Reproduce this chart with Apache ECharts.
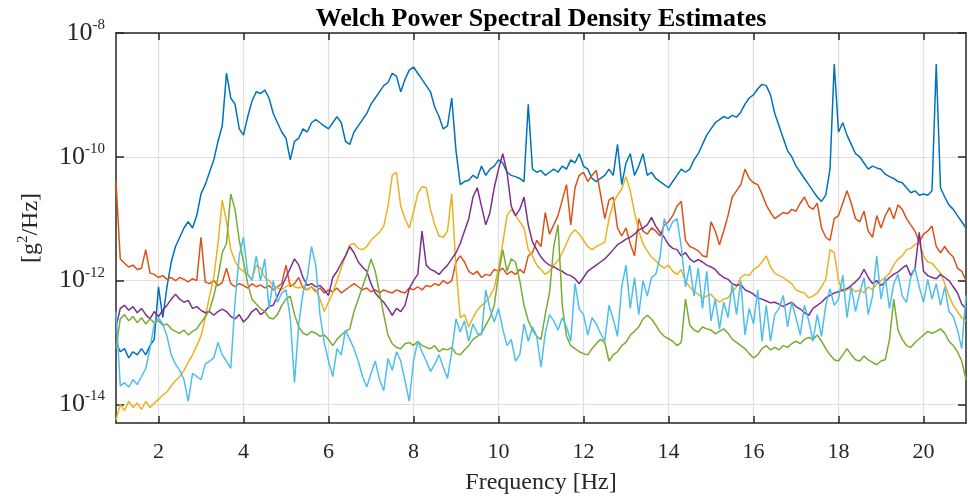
<!DOCTYPE html>
<html>
<head>
<meta charset="utf-8">
<script src="https://cdn.jsdelivr.net/npm/echarts@6/dist/echarts.min.js"></script>
<style>
  html, body { margin: 0; padding: 0; background: #fff; }
  #chart { width: 968px; height: 500px; }
</style>
</head>
<body>
<div id="chart"></div>
<script>
// Welch PSD estimates, six channels, sampled every 0.1 Hz from 1 to 21 Hz.
// Values are stored as log10 of the PSD in g^2/Hz.
const freqStart = 1;
const freqStep = 0.1;
const freqCount = 201;

const xTickValues = [2, 4, 6, 8, 10, 12, 14, 16, 18, 20];
const yTickValues = [1e-14, 1e-12, 1e-10, 1e-8];

const seriesNames = ['Ch 1', 'Ch 2', 'Ch 3', 'Ch 4', 'Ch 5', 'Ch 6'];

const ch1Log = [
  -13.0,-13.15,-13.1,-13.25,-13.15,-13.2,-13.1,-13.2,-13.05,-12.95,
  -12.1,-12.6,-12.1,-11.7,-11.45,-11.3,-11.15,-11.05,-11.15,-10.95,
  -10.6,-10.45,-10.25,-10.05,-9.75,-9.5,-8.65,-9.05,-9.15,-9.55,
  -9.65,-9.35,-9.1,-8.95,-8.98,-8.92,-9.05,-9.3,-9.45,-9.6,
  -9.7,-10.05,-9.75,-9.7,-9.55,-9.6,-9.45,-9.4,-9.45,-9.5,
  -9.55,-9.45,-9.35,-9.45,-9.75,-9.8,-9.6,-9.5,-9.4,-9.3,
  -9.15,-9.05,-8.95,-8.85,-8.8,-8.65,-8.7,-8.95,-8.75,-8.6,
  -8.55,-8.65,-8.75,-8.85,-8.95,-9.2,-9.35,-9.55,-9.5,-9.05,
  -9.9,-10.45,-10.4,-10.38,-10.3,-10.35,-10.15,-10.3,-10.2,-10.15,
  -10.05,-10.1,-10.25,-10.3,-10.32,-10.35,-10.4,-9.15,-10.2,-10.25,
  -10.22,-10.3,-10.25,-10.2,-10.25,-10.15,-10.2,-10.05,-10.1,-9.95,
  -10.15,-10.2,-10.35,-10.4,-10.35,-10.3,-10.2,-10.3,-9.8,-10.45,
  -10.1,-9.95,-10.3,-10.15,-9.95,-10.3,-10.25,-10.35,-10.4,-10.45,
  -10.5,-10.4,-10.3,-10.2,-10.25,-10.2,-10.05,-9.95,-9.8,-9.65,
  -9.55,-9.45,-9.4,-9.35,-9.38,-9.33,-9.36,-9.28,-9.15,-9.05,
  -9.0,-8.9,-8.83,-8.85,-9.0,-9.3,-9.5,-9.7,-9.9,-10.0,
  -10.15,-10.25,-10.35,-10.45,-10.55,-10.65,-10.72,-10.62,-10.2,-8.5,
  -9.6,-9.45,-9.65,-9.8,-9.95,-10.0,-10.1,-10.2,-10.15,-10.18,
  -10.2,-10.28,-10.32,-10.35,-10.4,-10.42,-10.5,-10.58,-10.55,-10.62,
  -10.6,-10.62,-10.55,-8.5,-10.5,-10.65,-10.78,-10.85,-10.95,-11.05,
  -11.15
];

const ch2Log = [
  -10.4,-11.65,-11.72,-11.78,-11.75,-11.82,-11.8,-11.5,-11.88,-11.9,
  -11.95,-11.92,-11.98,-11.95,-12.0,-11.95,-11.98,-12.02,-11.97,-12.0,
  -11.3,-12.02,-12.05,-12.0,-12.08,-12.03,-11.8,-12.05,-12.1,-12.05,
  -12.08,-12.12,-12.05,-12.1,-12.07,-12.12,-12.08,-12.15,-12.1,-12.05,
  -11.75,-12.1,-12.05,-11.95,-12.12,-12.15,-12.1,-12.18,-12.12,-12.2,
  -12.15,-12.18,-12.12,-12.2,-12.15,-12.1,-12.05,-12.1,-12.15,-12.12,
  -12.18,-12.15,-12.2,-12.15,-12.18,-12.2,-12.15,-12.18,-12.2,-12.12,
  -12.15,-12.1,-12.15,-12.08,-12.1,-12.05,-12.08,-12.0,-12.05,-12.0,
  -11.7,-11.6,-11.7,-11.85,-11.9,-11.85,-11.95,-11.9,-11.92,-11.82,
  -11.85,-11.8,-11.9,-11.85,-11.9,-11.82,-11.88,-11.6,-11.55,-11.35,
  -11.45,-10.9,-11.25,-11.1,-10.95,-10.7,-10.45,-11.1,-10.5,-10.3,
  -10.25,-10.4,-10.3,-10.22,-10.6,-11.0,-10.7,-10.65,-11.15,-11.28,
  -11.15,-11.4,-11.6,-11.0,-11.2,-11.25,-11.15,-11.2,-11.28,-11.1,
  -11.05,-10.95,-10.8,-10.72,-11.35,-11.45,-11.48,-11.52,-11.6,-11.62,
  -11.05,-11.2,-11.42,-11.2,-10.95,-10.65,-10.55,-10.45,-10.2,-10.35,
  -10.42,-10.45,-10.6,-10.78,-10.9,-11.0,-10.95,-10.9,-10.92,-10.85,
  -10.88,-10.75,-10.65,-10.8,-10.85,-10.75,-11.15,-11.3,-11.35,-11.0,
  -10.95,-10.75,-10.55,-10.75,-11.0,-11.05,-10.88,-11.2,-11.3,-10.95,
  -11.15,-10.95,-10.82,-11.0,-10.78,-10.85,-11.0,-11.1,-11.2,-11.38,
  -11.25,-11.2,-11.12,-11.45,-11.55,-11.45,-11.55,-11.62,-11.8,-11.85,
  -12.0
];

const ch3Log = [
  -14.25,-14.0,-14.1,-13.95,-14.05,-13.98,-14.08,-13.95,-14.05,-13.98,
  -13.92,-13.85,-13.8,-13.7,-13.62,-13.55,-13.45,-13.32,-13.2,-13.05,
  -12.9,-12.6,-12.25,-11.95,-11.4,-10.7,-11.05,-11.5,-11.68,-11.8,
  -11.85,-11.9,-11.98,-11.75,-11.8,-11.95,-12.0,-12.08,-12.12,-12.15,
  -12.1,-12.05,-12.1,-12.12,-12.08,-12.15,-12.1,-12.15,-12.3,-12.5,
  -12.35,-12.2,-12.0,-11.8,-11.6,-11.42,-11.4,-11.48,-11.5,-11.45,
  -11.35,-11.28,-11.22,-11.12,-10.8,-10.3,-10.25,-10.8,-11.0,-11.15,
  -10.9,-10.6,-10.48,-10.5,-10.85,-11.1,-11.28,-11.3,-11.2,-10.6,
  -11.8,-12.6,-12.55,-12.75,-12.6,-12.48,-12.4,-12.35,-12.25,-12.12,
  -11.8,-11.4,-10.95,-10.85,-10.95,-11.05,-11.15,-11.5,-11.6,-11.75,
  -11.82,-11.9,-11.85,-11.75,-11.68,-11.55,-11.4,-11.25,-11.18,-11.25,
  -11.35,-11.45,-11.5,-11.45,-11.42,-11.38,-11.0,-10.75,-10.62,-10.52,
  -10.32,-10.55,-10.9,-11.2,-11.4,-11.52,-11.62,-11.68,-11.75,-11.8,
  -11.75,-11.85,-11.9,-11.82,-12.02,-12.1,-12.18,-12.22,-12.28,-12.25,
  -12.22,-12.3,-12.35,-12.3,-12.28,-12.18,-12.1,-11.95,-11.9,-11.92,
  -11.82,-11.78,-11.7,-11.6,-11.78,-11.88,-11.92,-11.95,-12.0,-12.05,
  -12.15,-12.18,-12.2,-12.28,-12.25,-12.2,-12.1,-11.98,-11.5,-11.55,
  -12.0,-12.18,-12.15,-12.12,-12.18,-12.15,-12.2,-12.1,-12.15,-12.05,
  -12.0,-11.95,-11.88,-11.75,-11.65,-11.6,-11.5,-11.48,-11.42,-11.38,
  -11.6,-11.7,-11.72,-11.8,-11.88,-12.05,-12.25,-12.4,-12.5,-12.6,
  -12.65
];

const ch4Log = [
  -12.75,-12.45,-12.4,-12.48,-12.42,-12.52,-12.45,-12.55,-12.62,-12.5,
  -12.58,-12.48,-12.4,-12.3,-12.22,-12.3,-12.35,-12.32,-12.45,-12.42,
  -12.48,-12.52,-12.5,-12.56,-12.5,-12.46,-12.5,-12.58,-12.62,-12.55,
  -12.67,-12.6,-12.5,-12.45,-12.55,-12.5,-12.42,-12.4,-12.25,-12.1,
  -11.95,-11.8,-11.65,-11.75,-11.95,-12.08,-12.05,-12.1,-12.08,-12.15,
  -12.24,-11.95,-11.85,-11.72,-11.6,-11.45,-11.55,-11.7,-11.78,-11.85,
  -12.05,-12.2,-12.28,-12.35,-12.45,-12.56,-12.45,-12.5,-12.4,-12.13,
  -12.0,-11.9,-11.2,-11.75,-11.82,-11.85,-11.9,-11.82,-11.75,-11.65,
  -11.55,-11.4,-11.2,-11.0,-10.65,-10.5,-10.8,-11.1,-10.9,-10.5,
  -10.2,-9.95,-10.25,-10.8,-10.95,-10.85,-10.65,-11.1,-11.38,-11.5,
  -11.62,-11.7,-11.75,-11.78,-11.82,-11.85,-11.9,-11.92,-11.97,-12.05,
  -11.95,-11.85,-11.8,-11.75,-11.7,-11.65,-11.58,-11.5,-11.42,-11.38,
  -11.33,-11.3,-11.25,-11.18,-11.15,-11.1,-10.98,-11.12,-11.22,-11.3,
  -11.42,-11.48,-11.5,-11.6,-11.55,-11.65,-11.7,-11.66,-11.7,-11.75,
  -11.78,-11.82,-11.9,-11.95,-11.98,-12.05,-12.08,-12.06,-12.15,-12.18,
  -12.22,-12.28,-12.3,-12.33,-12.36,-12.35,-12.38,-12.42,-12.38,-12.35,
  -12.42,-12.46,-12.52,-12.56,-12.45,-12.4,-12.35,-12.28,-12.24,-12.2,
  -12.18,-12.15,-12.13,-12.08,-12.02,-11.95,-11.82,-11.95,-12.05,-12.0,
  -12.08,-12.02,-11.95,-11.9,-11.86,-11.8,-11.75,-11.92,-11.8,-11.22,
  -11.85,-11.92,-11.95,-11.97,-11.9,-11.95,-12.0,-12.1,-12.2,-12.38,
  -12.46
];

const ch5Log = [
  -13.1,-12.62,-12.55,-12.65,-12.58,-12.68,-12.6,-12.7,-12.62,-12.68,
  -12.65,-12.72,-12.7,-12.78,-12.82,-12.85,-12.8,-12.88,-12.82,-12.78,
  -12.68,-12.58,-12.48,-12.25,-11.95,-11.55,-11.4,-10.6,-10.85,-11.35,
  -11.7,-12.05,-12.3,-12.38,-12.45,-12.5,-12.6,-12.62,-12.55,-12.4,
  -12.3,-12.25,-12.55,-12.75,-12.85,-12.88,-12.82,-12.85,-12.9,-12.88,
  -12.95,-13.05,-12.95,-12.88,-12.82,-12.78,-12.5,-12.3,-12.1,-11.9,
  -11.65,-11.85,-12.2,-12.55,-12.88,-13.02,-13.08,-13.1,-13.02,-13.0,
  -13.05,-12.98,-13.05,-13.08,-13.1,-13.05,-13.15,-13.1,-13.12,-13.08,
  -13.18,-13.2,-13.12,-13.05,-12.95,-12.9,-12.85,-12.72,-12.6,-12.4,
  -11.9,-11.5,-11.85,-11.65,-11.7,-12.0,-12.4,-12.65,-12.8,-12.9,
  -12.95,-12.55,-12.2,-11.45,-11.1,-12.4,-12.9,-13.05,-13.1,-13.15,
  -13.18,-13.2,-13.1,-13.02,-12.95,-13.0,-13.3,-13.2,-13.15,-13.05,
  -13.0,-12.88,-12.82,-12.75,-12.62,-12.56,-12.62,-12.72,-12.83,-12.9,
  -12.94,-12.98,-13.05,-13.0,-12.3,-12.72,-12.8,-12.83,-12.75,-12.78,
  -12.8,-12.86,-12.82,-12.78,-12.85,-12.95,-13.0,-13.05,-13.1,-13.18,
  -13.25,-13.2,-13.1,-13.05,-13.12,-13.08,-13.12,-13.05,-13.08,-13.02,
  -12.98,-13.02,-12.95,-12.92,-12.95,-12.88,-12.98,-13.1,-13.2,-13.28,
  -13.3,-13.2,-13.1,-13.2,-13.28,-13.3,-13.22,-13.28,-13.32,-13.36,
  -13.3,-13.28,-12.95,-12.3,-12.8,-12.95,-13.05,-13.08,-13.0,-12.94,
  -12.88,-12.82,-12.85,-12.82,-12.78,-12.85,-12.98,-13.05,-13.15,-13.3,
  -13.6
];

const ch6Log = [
  -12.5,-13.7,-13.65,-13.72,-13.6,-13.68,-13.55,-13.42,-13.1,-12.7,
  -12.6,-12.7,-12.9,-13.2,-13.35,-13.45,-13.6,-13.95,-13.5,-13.55,
  -13.6,-13.35,-13.3,-13.25,-13.0,-13.2,-13.3,-13.42,-12.35,-11.6,
  -11.3,-11.9,-12.0,-11.6,-12.0,-11.65,-12.45,-12.0,-12.35,-12.2,
  -12.15,-12.6,-13.65,-12.7,-12.2,-11.95,-11.45,-11.75,-12.55,-13.0,
  -13.3,-13.55,-13.1,-13.2,-12.8,-12.95,-13.1,-13.3,-13.55,-13.72,
  -13.5,-13.3,-13.6,-13.78,-13.26,-13.45,-13.15,-13.3,-13.62,-13.95,
  -13.3,-12.98,-13.15,-13.3,-13.47,-13.35,-13.2,-13.4,-13.58,-13.15,
  -12.62,-12.83,-12.65,-12.98,-12.7,-12.85,-12.88,-12.15,-12.46,-12.67,
  -12.45,-12.78,-13.05,-12.95,-13.3,-13.2,-12.7,-12.98,-12.75,-12.9,
  -13.4,-12.85,-12.55,-12.65,-12.8,-12.6,-12.75,-12.98,-12.05,-12.46,
  -12.55,-12.88,-12.6,-12.7,-12.85,-12.98,-12.4,-12.62,-12.9,-12.1,
  -11.75,-12.45,-11.95,-12.55,-12.0,-12.25,-11.95,-11.9,-11.62,-11.0,
  -11.2,-11.05,-11.0,-11.45,-12.1,-11.75,-12.25,-11.8,-12.45,-11.85,
  -12.65,-12.3,-12.78,-12.35,-12.6,-12.05,-12.55,-12.0,-12.88,-12.45,
  -12.7,-12.15,-12.98,-12.4,-12.98,-12.55,-12.45,-12.24,-12.75,-12.35,
  -12.6,-12.88,-12.4,-12.65,-12.98,-12.55,-12.9,-12.4,-12.13,-12.4,
  -12.3,-11.91,-12.6,-12.1,-12.5,-12.2,-11.95,-12.55,-12.25,-11.6,
  -12.3,-11.95,-12.45,-12.05,-11.9,-12.25,-12.35,-11.95,-11.8,-12.1,
  -12.35,-11.98,-12.3,-12.05,-12.4,-12.1,-12.5,-12.58,-12.8,-13.1,
  -12.24
];

const seriesLogs = [ch1Log, ch2Log, ch3Log, ch4Log, ch5Log, ch6Log];
const seriesColors = ['#0072BD', '#D95319', '#EDB120', '#7E2F8E', '#77AC30', '#4DBEEE'];

const freq = Array.from({ length: freqCount }, (_, i) => +(freqStart + i * freqStep).toFixed(1));

const serif = "'Liberation Serif', 'Times New Roman', serif";
const ink = '#262626';

const chart = echarts.init(document.getElementById('chart'), null, { renderer: 'canvas' });

const xCommon = {
  type: 'value',
  min: 1,
  max: 21,
  axisLine: { show: true, onZero: false, lineStyle: { color: ink, width: 1.5 } },
  axisTick: { show: true, inside: true, length: 7, customValues: xTickValues, lineStyle: { color: ink, width: 1.5 } }
};
const yCommon = {
  type: 'log',
  logBase: 10,
  min: 5e-15,
  max: 1e-8,
  axisLine: { show: true, onZero: false, lineStyle: { color: ink, width: 1.5 } },
  axisTick: { show: true, inside: true, length: 8, customValues: yTickValues, lineStyle: { color: ink, width: 1.5 } }
};

const option = {
  animation: false,
  backgroundColor: '#ffffff',
  title: {
    text: 'Welch Power Spectral Density Estimates',
    left: 536,
    top: 1,
    textAlign: 'center',
    textStyle: { fontFamily: serif, fontWeight: 'bold', fontSize: 26, color: '#000' }
  },
  grid: { left: 116, right: 2, top: 33, bottom: 75, containLabel: false },
  xAxis: [
    Object.assign({}, xCommon, {
      position: 'bottom',
      name: 'Frequency [Hz]',
      nameLocation: 'middle',
      nameGap: 48,
      nameTextStyle: { fontFamily: serif, fontSize: 24, color: ink },
      axisLabel: { show: true, customValues: xTickValues, margin: 18, fontFamily: serif, fontSize: 22, color: ink },
      splitLine: { show: true, lineStyle: { color: '#dedede', width: 1.2 } }
    }),
    Object.assign({}, xCommon, {
      position: 'top',
      axisLabel: { show: false },
      splitLine: { show: false }
    })
  ],
  yAxis: [
    Object.assign({}, yCommon, {
      position: 'left',
      name: '[g{s|2}/Hz]',
      nameLocation: 'middle',
      nameRotate: 90,
      nameGap: 70,
      nameTextStyle: {
        fontFamily: serif, fontSize: 24, color: ink,
        rich: { s: { fontFamily: serif, fontSize: 15, color: ink, verticalAlign: 'top', lineHeight: 30 } }
      },
      axisLabel: {
        show: true,
        customValues: yTickValues,
        margin: 11,
        formatter: v => '{b|10}{s|' + Math.round(Math.log10(v)) + '}',
        rich: {
          b: { fontFamily: serif, fontSize: 26, color: ink, lineHeight: 31 },
          s: { fontFamily: serif, fontSize: 15, color: ink, verticalAlign: 'top', lineHeight: 15 }
        }
      },
      splitLine: { show: true, lineStyle: { color: '#dedede', width: 1.2 } }
    }),
    Object.assign({}, yCommon, {
      position: 'right',
      axisLabel: { show: false },
      splitLine: { show: false }
    })
  ],
  series: seriesLogs.map((logs, k) => ({
    name: seriesNames[k],
    type: 'line',
    xAxisIndex: 0,
    yAxisIndex: 0,
    showSymbol: false,
    symbol: 'none',
    clip: true,
    lineStyle: { color: seriesColors[k], width: 1.5 },
    data: freq.map((f, i) => [f, Math.pow(10, logs[i])])
  }))
};

chart.setOption(option);
</script>
</body>
</html>
